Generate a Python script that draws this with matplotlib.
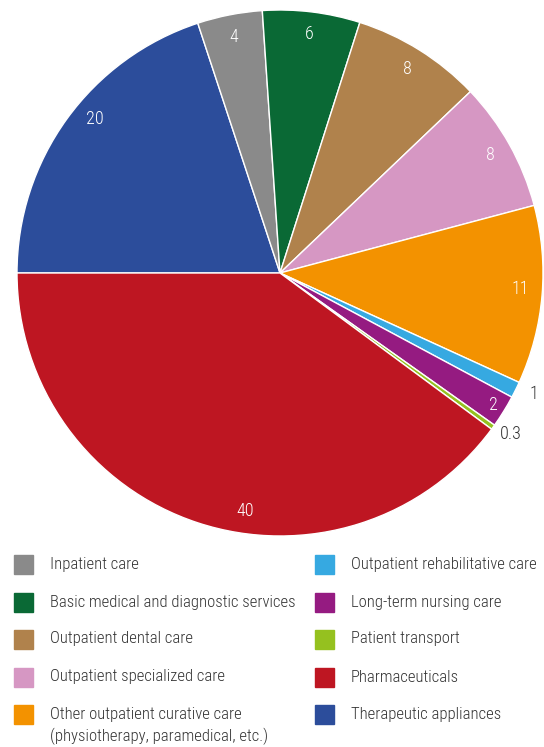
import numpy as np
import matplotlib.pyplot as plt
from matplotlib.patches import Rectangle

# Health expenditure shares by function (percent)
categories = [
    'Therapeutic appliances',
    'Inpatient care',
    'Basic medical and diagnostic services',
    'Outpatient dental care',
    'Outpatient specialized care',
    'Other outpatient curative care\n(physiotherapy, paramedical, etc.)',
    'Outpatient rehabilitative care',
    'Long-term nursing care',
    'Patient transport',
    'Pharmaceuticals',
]
values = [20, 4, 6, 8, 8, 11, 1, 2, 0.3, 40]
value_labels = ['20', '4', '6', '8', '8', '11', '1', '2', '0.3', '40']
colors = ['#2c4d9b', '#8a8a8a', '#0a6935', '#b0824c', '#d697c3',
          '#f39200', '#36a9e1', '#951b81', '#95c11f', '#be1622']

# legend order (two columns)
legend_left = [1, 2, 3, 4, 5]
legend_right = [6, 7, 8, 9, 0]

plt.rcParams['font.family'] = ['Roboto Condensed', 'Liberation Sans Narrow', 'DejaVu Sans']

W, H = 544, 747
fig = plt.figure(figsize=(W / 100, H / 100), dpi=100)

# pie axes: square in pixels, centred at (280, 273)
cx, cy, R = 280, 273, 263
ax = fig.add_axes([(cx - R) / W, 1 - (cy + R) / H, 2 * R / W, 2 * R / H])
wedges, _ = ax.pie(values, colors=colors, startangle=180, counterclock=False,
                   radius=1, wedgeprops=dict(edgecolor='white', linewidth=1.0))
ax.set_xlim(-1, 1)
ax.set_ylim(-1, 1)
ax.axis('off')

# value labels: radius and small angle nudges per slice
label_r = [0.915, 0.915, 0.915, 0.915, 0.915, 0.915, 1.07, 0.955, 1.07, 0.915]
label_shift = [-4, 0, 0, 0, 0, 1, 1, 0, 1, 10]
for w, txt, r, sh in zip(wedges, value_labels, label_r, label_shift):
    ang = np.deg2rad((w.theta1 + w.theta2) / 2 + sh)
    col = '#333333' if r > 1 else 'white'
    ax.text(r * np.cos(ang), r * np.sin(ang), txt, ha='center', va='center',
            fontsize=13, color=col, fontweight='light')

# legend drawn by hand in pixel positions
rows_y = [564, 602, 639, 677, 714]
for col_x, idxs in [(14, legend_left), (315, legend_right)]:
    for y, i in zip(rows_y, idxs):
        fig.patches.append(Rectangle((col_x / W, 1 - (y + 9.5) / H), 19 / W, 19 / H,
                                     transform=fig.transFigure, color=colors[i]))
        fig.text((col_x + 36) / W, 1 - (y - 7.5) / H, categories[i], ha='left', va='top',
                 fontsize=12, color='#333333', linespacing=1.45, fontweight='light')

fig.savefig('out.png', dpi=100)
